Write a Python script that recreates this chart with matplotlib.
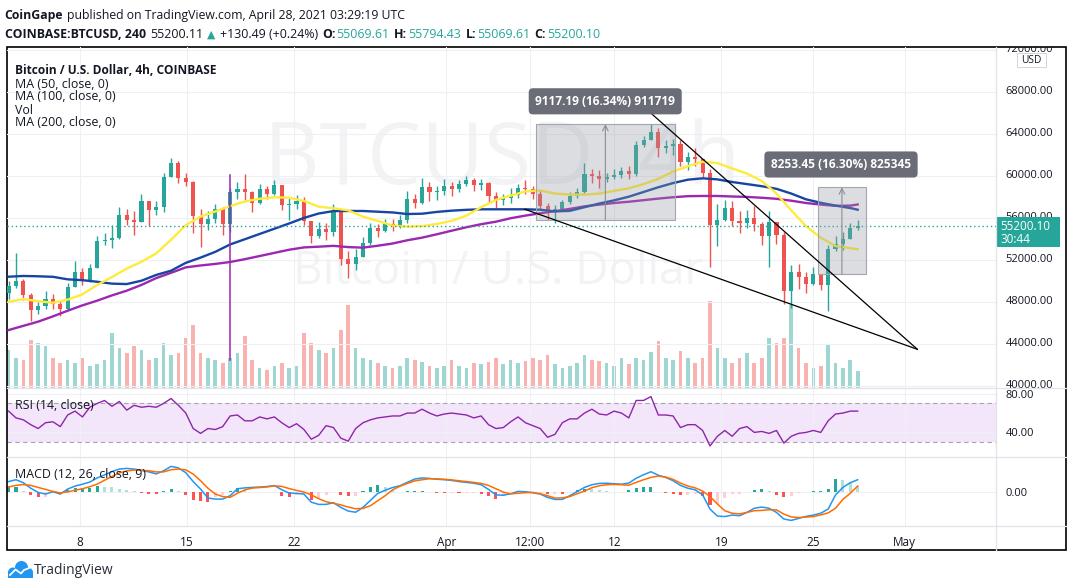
import numpy as np
import matplotlib
matplotlib.use("Agg")
import matplotlib.pyplot as plt
import matplotlib.transforms as mtransforms
from matplotlib.patches import Rectangle, Circle
from matplotlib.lines import Line2D

plt.rcParams['font.family'] = ['Open Sans', 'DejaVu Sans']

# ---------------- data ----------------
bar_start = 2.33      # days since 1 Mar 2021 of first bar
bar_step = 0.4835     # bar spacing in days (~12h)
first_open = 48800

close = [49500, 50000, 48600, 47200, 47600, 48300, 47800, 47300, 49400, 50800,
         50000, 51200, 53800, 53900, 54100, 56300, 55800, 55600, 57600, 56700,
         57000, 59900, 61200, 59800, 59400, 56200, 55400, 55900, 56800, 55400,
         58400, 58700, 58400, 57400, 58700, 58300, 59100, 57200, 57300, 57600,
         55700, 54300, 54900, 54600, 56500, 52100, 51600, 52300, 53600, 55000,
         54700, 55400, 55200, 55800, 57800, 57400, 58900, 58400, 58500, 59000,
         58700, 59200, 59600, 59100, 59300, 58100, 57700, 57900, 58200, 58800,
         58700, 58300, 57100, 56500, 56800, 57500, 58100, 58400, 60200, 60000,
         59700, 59900, 60100, 60400, 60200, 62900, 63400, 64200, 62600, 62800,
         63000, 61300, 61800, 61600, 60300, 55300, 55800, 56900, 55700, 55500,
         56000, 55400, 54300, 55600, 54400, 49000, 50800, 50400, 49700, 50600,
         49600, 53000, 53500, 54000, 55000, 55200]
high = [50000, 52600, 50200, 48800, 48000, 49000, 48700, 48100, 49800, 51900,
        51200, 51600, 54300, 54500, 55300, 57000, 56800, 56600, 58300, 57600,
        57600, 60300, 61700, 61400, 60300, 59500, 56800, 56600, 57300, 57000,
        58800, 59400, 60200, 58500, 59200, 59000, 59600, 59000, 57900, 58200,
        58000, 55700, 55600, 55500, 57300, 56500, 52800, 53000, 54200, 55500,
        55400, 55900, 55900, 56300, 58500, 58300, 59800, 59400, 59000, 59700,
        59400, 59600, 60000, 59800, 59700, 59400, 58400, 58300, 58800, 59200,
        59600, 59000, 58600, 57400, 57200, 57700, 58400, 58800, 61200, 60600,
        60500, 60300, 60600, 60800, 60900, 63300, 63800, 64900, 64500, 63400,
        63500, 63400, 62300, 62600, 61500, 60600, 57300, 57700, 57600, 56600,
        56700, 57100, 55600, 56600, 55400, 54600, 51500, 51600, 50800, 51300,
        50300, 53400, 54300, 54600, 55500, 55800]
low = [48300, 49300, 48200, 46200, 46800, 47300, 47300, 46600, 47200, 49500,
       49600, 49900, 51200, 53400, 53100, 54000, 55300, 54400, 55600, 55200,
       56300, 56500, 60400, 59300, 59000, 54500, 53200, 54800, 55500, 54400,
       54600, 57800, 57600, 56500, 57300, 57800, 58200, 56700, 55800, 56800,
       55300, 53600, 54100, 53900, 54300, 51500, 50300, 51000, 52400, 53400,
       54200, 54600, 54700, 55000, 55500, 56900, 57300, 57600, 57700, 58200,
       58100, 58400, 59000, 58500, 58600, 57500, 56900, 57200, 57400, 57900,
       58300, 57800, 56700, 55800, 55500, 56600, 57300, 57900, 58300, 59300,
       58800, 59400, 59700, 59800, 59700, 60000, 62700, 63400, 61800, 62200,
       62000, 60900, 60500, 60900, 59900, 51300, 53300, 55700, 55200, 54500,
       55000, 54700, 53400, 51300, 53500, 47800, 47400, 49200, 48800, 49600,
       49100, 47100, 52800, 52900, 54300, 54800]
volume = [38, 30, 28, 48, 45, 42, 30, 25, 28, 25, 30, 22, 24, 28, 55, 40, 35, 42, 38, 28,
          30, 45, 33, 35, 50, 63, 35, 30, 28, 25, 30, 35, 52, 28, 20, 18, 22, 25, 20, 22,
          55, 45, 38, 35, 40, 58, 83, 40, 30, 28, 25, 22, 20, 22, 30, 28, 26, 22, 20, 22,
          28, 22, 20, 25, 24, 26, 30, 24, 28, 25, 27, 30, 28, 33, 24, 20, 22, 25, 33, 28,
          27, 25, 22, 30, 24, 30, 28, 36, 47, 30, 28, 37, 30, 25, 30, 87, 40, 30, 25, 30,
          35, 25, 30, 50, 45, 50, 83, 40, 25, 20, 22, 43, 25, 20, 28, 17]
rsi = [62, 55, 53, 48, 44, 50, 51, 46, 58, 62, 56, 66, 70, 73, 67, 72, 63, 68, 66, 67,
       66, 70, 75, 68, 60, 44, 39, 44, 43, 46, 57, 58, 52, 52, 56, 54, 56, 50, 45, 49,
       43, 33, 37, 47, 45, 34, 31, 44, 50, 53, 55, 56, 57, 57, 60, 60, 64, 60, 57, 59,
       60, 59, 58, 55, 57, 48, 44, 45, 51, 56, 50, 47, 44, 35, 38, 50, 54, 54, 60, 64,
       59, 58, 62, 60, 55, 73, 73, 77, 58, 58, 57, 45, 48, 48, 42, 26, 36, 42, 36, 44,
       46, 40, 41, 39, 42, 29, 36, 39, 40, 42, 40, 52, 59, 60, 62, 62]
macd = [650, 760, 580, 250, 0, -100, 40, -100, 200, 380, 490, 620, 870, 1050, 1250, 1400,
        1440, 1400, 1320, 1230, 1110, 1300, 1560, 1470, 1180, 650, 200, -340, -400, -400,
        -200, 220, 270, 300, 320, 350, 410, 160, -40, -60, -100, -590, -720, -720, -620,
        -900, -1120, -1190, -900, -480, -60, 130, 290, 400, 600, 800, 870, 840, 790, 760,
        720, 650, 600, 550, 460, 180, -150, -170, -80, 60, 40, -20, -100, -300, -420, -420,
        -200, 50, 300, 460, 540, 550, 520, 490, 560, 850, 1060, 1240, 1030, 900, 700, 420,
        250, 150, -150, -1000, -1420, -1450, -1360, -1400, -1200, -950, -880, -950, -1200,
        -1600, -1680, -1560, -1440, -1360, -1250, -1000, -150, 300, 580, 760]
signal = [330, 420, 470, 420, 300, 180, 60, -30, 30, 130, 220, 340, 500, 730, 950, 1170,
          1290, 1340, 1330, 1300, 1230, 1230, 1360, 1400, 1350, 1100, 700, 250, -100, -250,
          -300, -50, 150, 260, 290, 330, 390, 360, 230, 120, 20, -150, -380, -560, -650,
          -750, -880, -980, -960, -800, -500, -200, 150, 370, 540, 690, 760, 820, 810, 790,
          750, 700, 650, 600, 540, 420, 220, 20, -90, -50, -20, 0, -80, -200, -340, -330,
          -250, -80, 80, 280, 400, 460, 480, 460, 430, 600, 760, 900, 980, 920, 780, 560,
          380, 270, 80, -250, -700, -1100, -1250, -1290, -1200, -1100, -1080, -1040, -1050,
          -1300, -1470, -1510, -1480, -1450, -1350, -1230, -950, -420, -50, 380]
# moving averages, read at every second bar plus the last bar
ma50 = [48000, 48250, 48050, 47900, 48200, 48700, 49600, 50350, 51150, 51800,
        52600, 53900, 55300, 56100, 56600, 57100, 57550, 57800, 57950, 57900,
        57600, 57050, 56900, 56700, 56100, 55700, 55250, 55150, 55200, 55400,
        55700, 56200, 57000, 57700, 58100, 58500, 58600, 58300, 58200, 58200,
        58300, 58550, 58800, 59200, 59700, 60400, 60900, 61330, 61200, 60700,
        60200, 59500, 58300, 56700, 55200, 54100, 53300, 53100, 53000]
ma100 = [50380, 50450, 50420, 50370, 50130, 50050, 49900, 49720, 49680, 50000,
         50550, 50950, 51700, 52200, 52750, 53450, 53950, 54450, 54950, 55450,
         55980, 56400, 56630, 56640, 56640, 56570, 56500, 56350, 56380, 56550,
         56670, 56750, 56800, 56800, 56800, 56800, 56760, 56600, 56650, 57000,
         57350, 57650, 58000, 58450, 58900, 59300, 59620, 59750, 59650, 59400,
         59200, 59000, 58750, 58300, 57750, 57420, 57150, 56920, 56760]
ma200 = [45300, 45700, 46100, 46600, 47140, 47650, 48100, 48600, 49050, 49600,
         50250, 50750, 51270, 51450, 51600, 51780, 52050, 52350, 52650, 52950,
         53170, 53240, 53320, 53200, 53150, 53330, 53540, 53850, 54100, 54420,
         54760, 55090, 55380, 55620, 55950, 56200, 56420, 56620, 56840, 57080,
         57250, 57400, 57520, 57670, 57820, 57950, 58050, 58070, 58070, 58020,
         57980, 57900, 57800, 57620, 57400, 57250, 57130, 57150, 57260]

tick_days = [7, 14, 21, 31, 36.5, 42, 49, 55, 61]
tick_labels = ['8', '15', '22', 'Apr', '12:00', '12', '19', '25', 'May']
price_ticks = [40000, 44000, 48000, 52000, 56000, 60000, 64000, 68000, 72000]
last_price = 55200.10

range1_t = [36.85, 45.97]
range1_p = [55797, 64914]
range1_label = "9117.19 (16.34%) 911719"
range1_label_pos = [41.40, 67086]
range2_t = [55.32, 58.48]
range2_p = [50635, 58888]
range2_label = "8253.45 (16.30%) 825345"
range2_label_pos = [56.84, 61067]
upper_t = [43.79, 61.84]
upper_p = [66733, 43467]
lower_t = [36.15, 61.84]
lower_p = [56800, 43467]
spike_t = 16.83
spike_p = [60050, 42450]

# ---------------- figure ----------------
W, H = 1073, 587
fig = plt.figure(figsize=(W / 100, H / 100), dpi=100)
fig.patch.set_facecolor('white')
pix = mtransforms.Affine2D().scale(1, -1).translate(0, H)
renderer = fig.canvas.get_renderer()

GREEN = '#26a69a'
RED = '#ef5350'
TXT = '#131722'
GRID = '#eef0f4'


def fbox(x0, y0, x1, y1):
    return [x0 / W, 1 - y1 / H, (x1 - x0) / W, (y1 - y0) / H]


PL, PR, FR = 6.7, 996, 1066
TOP, B1, B2, B3, BOT = 47.4, 388, 456.6, 526.2, 550

ax_vol = fig.add_axes(fbox(PL, TOP, PR, B1))
ax = fig.add_axes(fbox(PL, TOP, PR, B1), sharex=ax_vol)
ax_rsi = fig.add_axes(fbox(PL, B1, PR, B2), sharex=ax_vol)
ax_macd = fig.add_axes(fbox(PL, B2, PR, B3), sharex=ax_vol)
ax_vol.set_zorder(0)
ax.set_zorder(1)
ax.patch.set_alpha(0)

for a in (ax_vol, ax, ax_rsi, ax_macd):
    for s in a.spines.values():
        s.set_visible(False)
    a.tick_params(length=0, labelsize=8, colors=TXT)
    a.set_xticks(tick_days)
    a.grid(axis='x', color=GRID, lw=0.8)
    a.set_axisbelow(True)

ax_vol.set_xlim(2.206, 66.99)

n = len(close)
t = bar_start + bar_step * np.arange(n)
c = np.array(close, float)
o = np.r_[first_open, c[:-1]]
h = np.maximum(np.array(high, float), np.maximum(o, c))
l = np.minimum(np.array(low, float), np.minimum(o, c))
up = c >= o
col = np.where(up, GREEN, RED)

# volume
ax_vol.bar(t, volume, width=0.24, color=np.where(up, '#9ed6d1', '#f8b2b0'), lw=0)
ax_vol.set_ylim(0, 340.6)
ax_vol.set_yticks([])
ax_vol.tick_params(labelbottom=False)
ax_vol.grid(False)

# main price
ax.set_ylim(39781, 72219)
ax.set_yticks(price_ticks)
ax.tick_params(labelbottom=False, labelleft=False, labelright=False)
ax.grid(axis='y', color=GRID, lw=0.8)
bt = mtransforms.blended_transform_factory(ax.transAxes, ax.transData)
ppx = 1 / 0.0105  # price units per pixel
box_top = last_price + 9.4 * ppx
box_bottom = last_price - 21.2 * ppx
for v in price_ticks:
    tx = ax.text(1.0 + 9.5 / (PR - PL), v, f"{v:.2f}", transform=bt, va='center', ha='left',
                 fontsize=8, color=TXT, clip_on=True, zorder=2)
    y_lo = B1
    if box_bottom - 8 * ppx < v < box_top + 8 * ppx:
        # label partly hidden behind the last-price box
        y_lo = 175.7 + (60000 - box_top) / ppx
    tx.set_clip_box(mtransforms.Bbox.from_extents(PR, H - y_lo, FR, H - TOP))

ax.text(0.5007, 0.6635, "BTCUSD, 4h", transform=ax.transAxes, ha='center', va='center',
        fontsize=62, color='#f3f3f5', zorder=0.5)
ax.text(0.4966, 0.3406, "Bitcoin / U.S. Dollar", transform=ax.transAxes, ha='center', va='center',
        fontsize=33, color='#f3f3f5', zorder=0.5)

ax.vlines(t, l, h, colors=col, lw=1.0, zorder=3)
ax.bar(t, np.maximum(np.abs(c - o), 25), bottom=np.minimum(o, c), width=0.27, color=col, lw=0, zorder=4)

ma_idx = list(range(0, n, 2)) + [n - 1]
tm = t[ma_idx]
ax.plot(tm, ma200, color='#9c27b0', lw=1.7, zorder=5)
ax.plot(tm, ma100, color='#1746a2', lw=1.7, zorder=5)
ax.plot(tm, ma50, color='#ffeb3b', lw=1.7, zorder=5)
ax.plot([spike_t, spike_t], spike_p, color='#9c27b0', lw=1.1, zorder=5)

ax.axhline(last_price, color=GREEN, ls=(0, (1, 2)), lw=1, zorder=6)

# trend lines
ax.plot(upper_t, upper_p, color='black', lw=0.9, zorder=7)
ax.plot(lower_t, lower_p, color='black', lw=0.9, zorder=7)

# price range tools
for rt, rp, lab, lp in ((range1_t, range1_p, range1_label, range1_label_pos),
                        (range2_t, range2_p, range2_label, range2_label_pos)):
    ax.add_patch(Rectangle((rt[0], rp[0]), rt[1] - rt[0], rp[1] - rp[0],
                           fc='#9598a1', alpha=0.32, ec='none', zorder=6))
    ax.add_patch(Rectangle((rt[0], rp[0]), rt[1] - rt[0], rp[1] - rp[0],
                           fill=False, ec='#a3a6ae', lw=0.8, zorder=6))
    mid = (rt[0] + rt[1]) / 2
    ax.annotate('', xy=(mid, rp[1]), xytext=(mid, rp[0]),
                arrowprops=dict(arrowstyle='->', color='#8a8d96', lw=0.8,
                                shrinkA=0, shrinkB=0), zorder=6)
    ax.text(lp[0], lp[1], lab, ha='center', va='center', color='white', fontsize=8.6,
            fontweight='bold', zorder=9,
            bbox=dict(boxstyle='round,pad=0.55,rounding_size=0.35', fc='#6a6d78', ec='none'))

# last price label on axis
box = Rectangle((1.0, box_bottom), 64 / (PR - PL), box_top - box_bottom, transform=bt,
                fc=GREEN, ec='none', clip_on=False, zorder=10)
ax.add_patch(box)
ax.text(1.0 + 4 / (PR - PL), last_price, f"{last_price:.2f}", transform=bt, color='white',
        fontsize=8.4, va='center', ha='left', clip_on=False, zorder=11)
ax.text(1.0 + 4 / (PR - PL), last_price - 13.6 * ppx, "30:44", transform=bt, color='white',
        fontsize=8.4, va='center', ha='left', clip_on=False, zorder=11)

# RSI
ax_rsi.set_ylim(15.0, 85.9)
ax_rsi.axhspan(30, 70, color='#f3e6fb', lw=0, zorder=0)
ax_rsi.axhline(70, color='#a9a3b0', lw=0.8, ls=(0, (4, 3)))
ax_rsi.axhline(30, color='#a9a3b0', lw=0.8, ls=(0, (4, 3)))
ax_rsi.plot(t, rsi, color='#8e24aa', lw=1.0)
ax_rsi.set_yticks([40, 80])
ax_rsi.set_yticklabels(['40.00', '80.00'])
ax_rsi.yaxis.tick_right()
ax_rsi.tick_params(axis='y', pad=7)
ax_rsi.tick_params(labelbottom=False)
ax_rsi.grid(axis='y', color=GRID, lw=0.8)

# MACD
mc = np.array(macd, float)
sg = np.array(signal, float)
hist = mc - sg
prev = np.r_[hist[0], hist[:-1]]
hcol = np.where(hist >= 0, np.where(hist >= prev, '#26a69a', '#b2dfdb'),
                np.where(hist < prev, '#ff5252', '#ffcdd2'))
ax_macd.set_ylim(-2028, 2148)
ax_macd.bar(t, hist, width=0.2, color=hcol, lw=0)
ax_macd.plot(t, mc, color='#2196f3', lw=1.1)
ax_macd.plot(t, sg, color='#ff6d00', lw=1.1)
ax_macd.set_yticks([0])
ax_macd.set_yticklabels(['0.00'])
ax_macd.yaxis.tick_right()
ax_macd.tick_params(axis='y', pad=7)
ax_macd.grid(axis='y', color=GRID, lw=0.8)
ax_macd.set_xticklabels(tick_labels)
ax_macd.tick_params(axis='x', pad=7, labelsize=8.5)

# frame & separators
for yy in (B1, B2, B3):
    fig.add_artist(Line2D([PL, FR], [yy, yy], transform=pix, color='#e0e3eb', lw=0.9))
fig.add_artist(Line2D([PR, PR], [TOP, BOT], transform=pix, color='#e0e3eb', lw=0.9))
fig.add_artist(Rectangle((PL, TOP), FR - PL, BOT - TOP, transform=pix, fill=False,
                         ec='black', lw=1.2))

# USD box
fig.add_artist(Rectangle((1017, 53), 29, 14, transform=pix, fc='white', ec='#d1d4dc', lw=0.7))
fig.text(1031.5, 60.2, "USD", transform=pix, ha='center', va='center', fontsize=7.3, color=TXT)


# headers
def ptext(x, y, s, **kw):
    kw.setdefault('color', TXT)
    kw.setdefault('fontsize', 8.9)
    return fig.text(x, y, s, transform=pix, va='center', ha='left', **kw)


def chain(x, y, pieces, size):
    for s, kw, gap in pieces:
        kw = dict(kw)
        kw.setdefault('fontsize', size)
        tx = ptext(x, y, s, **kw)
        x += tx.get_window_extent(renderer).width + gap


B = {'fontweight': 'bold'}
G = {'color': GREEN}
chain(4.7, 16, [("CoinGape", B, 3.5),
                ("published on TradingView.com, April 28, 2021 03:29:19 UTC", {}, 0)], 8.8)
chain(4.7, 35, [("COINBASE:BTCUSD, 240", B, 4.5),
                ("55200.11", {}, 4),
                ("\u25b2", {'color': GREEN, 'fontsize': 7.8}, 4),
                ("+130.49 (+0.24%)", {}, 4),
                ("O:", B, 1), ("55069.61", G, 4.5),
                ("H:", B, 1), ("55794.43", G, 4.5),
                ("L:", B, 1), ("55069.61", G, 4.5),
                ("C:", B, 1), ("55200.10", G, 0)], 8.9)

ptext(15, 71, "Bitcoin / U.S. Dollar, 4h, COINBASE", fontweight='bold', fontsize=8.6)
ptext(15, 84, "MA (50, close, 0)")
ptext(15, 97, "MA (100, close, 0)")
ptext(15, 110, "Vol")
ptext(15, 122.5, "MA (200, close, 0)")
ptext(15, 405.7, "RSI (14, close)")
ptext(15, 475, "MACD (12, 26, close, 9)")

# TradingView logo
LOGO = '#2196f3'
for cx, cy, r in ((13, 572.5, 5), (21.5, 567.5, 6.5), (28, 572.5, 5)):
    fig.add_artist(Circle((cx, cy), r, transform=pix, fc=LOGO, ec='none'))
fig.add_artist(Rectangle((8, 571), 25, 6.5, transform=pix, fc=LOGO, ec='none'))
fig.add_artist(Line2D([10, 15.5, 21, 24, 30.5], [575, 569.5, 573.5, 570, 567.5], transform=pix,
                      color='white', lw=1.3))
ptext(34, 570.5, "TradingView", fontsize=10, color='#2a2e39')

fig.savefig('out.png', dpi=100)
